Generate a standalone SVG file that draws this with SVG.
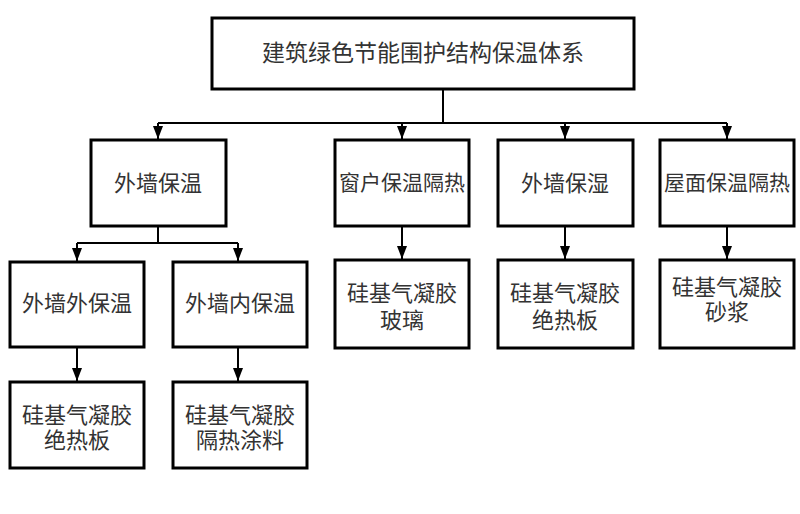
<svg xmlns="http://www.w3.org/2000/svg" width="800" height="514" viewBox="0 0 800 514">
<style>
.box{fill:#fff;stroke:#000;stroke-width:3}
.t{font-family:"Liberation Serif","Noto Sans CJK SC",serif;font-size:22px;fill:#333;text-anchor:middle;dominant-baseline:central}
.c{fill:none;stroke:#000;stroke-width:2}
</style>
<defs>
<marker id="a" markerWidth="13" markerHeight="10" refX="13" refY="5" orient="auto" markerUnits="userSpaceOnUse" viewBox="0 0 13 10">
<path d="M0,0 L13,5 L0,10 Z" fill="#000"/>
</marker>
</defs>
<rect width="800" height="514" fill="#fff"/>
<g id="connectors">
<path class="c" d="M443,89 V123"/>
<path class="c" d="M158,123 H727"/>
<path class="c" d="M158,123 V139" marker-end="url(#a)"/>
<path class="c" d="M402,123 V139" marker-end="url(#a)"/>
<path class="c" d="M565,123 V139" marker-end="url(#a)"/>
<path class="c" d="M727,123 V139" marker-end="url(#a)"/>
<path class="c" d="M158,226 V243"/>
<path class="c" d="M77,243 H238"/>
<path class="c" d="M77,243 V261" marker-end="url(#a)"/>
<path class="c" d="M238,243 V261" marker-end="url(#a)"/>
<path class="c" d="M402,226 V259" marker-end="url(#a)"/>
<path class="c" d="M565,226 V259" marker-end="url(#a)"/>
<path class="c" d="M727,226 V259" marker-end="url(#a)"/>
<path class="c" d="M77,347 V381" marker-end="url(#a)"/>
<path class="c" d="M238,347 V381" marker-end="url(#a)"/>
</g>
<g id="root"><rect class="box" x="212" y="18" width="422" height="71"/><text class="t" x="423" y="53" style="font-size:23px">建筑绿色节能围护结构保温体系</text></g>
<g id="n1"><rect class="box" x="91" y="140" width="135" height="86"/><text class="t" x="158" y="183">外墙保温</text></g>
<g id="n2"><rect class="box" x="335" y="140" width="134" height="86"/><text class="t" x="402" y="183" style="font-size:21px">窗户保温隔热</text></g>
<g id="n3"><rect class="box" x="498" y="140" width="135" height="86"/><text class="t" x="565" y="183">外墙保湿</text></g>
<g id="n4"><rect class="box" x="660" y="140" width="134" height="86"/><text class="t" x="727" y="183" style="font-size:21px">屋面保温隔热</text></g>
<g id="n11"><rect class="box" x="10" y="262" width="134" height="85"/><text class="t" x="77" y="303">外墙外保温</text></g>
<g id="n12"><rect class="box" x="173" y="262" width="134" height="85"/><text class="t" x="240" y="303">外墙内保温</text></g>
<g id="n111"><rect class="box" x="10" y="382" width="134" height="86"/><text class="t" x="77" y="415">硅基气凝胶</text><text class="t" x="77" y="440">绝热板</text></g>
<g id="n121"><rect class="box" x="173" y="382" width="134" height="86"/><text class="t" x="240" y="415">硅基气凝胶</text><text class="t" x="240" y="440">隔热涂料</text></g>
<g id="n21"><rect class="box" x="335" y="260" width="134" height="88"/><text class="t" x="402" y="293">硅基气凝胶</text><text class="t" x="402" y="320">玻璃</text></g>
<g id="n31"><rect class="box" x="498" y="260" width="135" height="88"/><text class="t" x="565" y="293">硅基气凝胶</text><text class="t" x="565" y="320">绝热板</text></g>
<g id="n41"><rect class="box" x="660" y="260" width="134" height="88"/><text class="t" x="727" y="287">硅基气凝胶</text><text class="t" x="727" y="312">砂浆</text></g>
</svg>
